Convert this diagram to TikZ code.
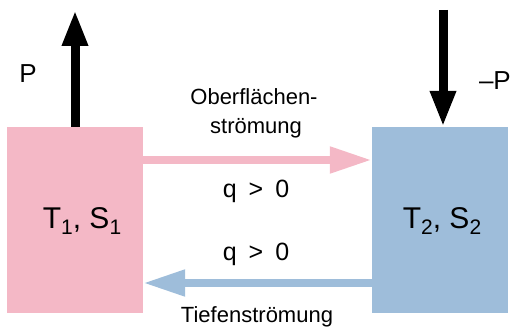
\documentclass[tikz,border=0pt]{standalone}
\usepackage{fontspec}
\setmainfont{Liberation Sans}
\usetikzlibrary{arrows.meta}
\definecolor{boxpink}{RGB}{244,184,198}
\definecolor{boxblue}{RGB}{158,189,218}
\newcommand{\subnum}[1]{\raisebox{-6pt}{\fontsize{21}{21}\selectfont #1}}
\begin{document}
\begin{tikzpicture}[x=1pt,y=-1pt,
  box/.style={minimum width=136pt,minimum height=186pt,inner sep=0pt,draw=none},
  lbl/.style={inner sep=0pt,anchor=base,font=\fontsize{22}{26}\selectfont},
  qlbl/.style={inner sep=0pt,anchor=base,font=\fontsize{25}{28}\selectfont},
  big/.style={inner sep=0pt,anchor=base,font=\fontsize{30}{34}\selectfont},
  plbl/.style={inner sep=0pt,font=\fontsize{26}{30}\selectfont},
  fat/.style={line width=9pt,-{Triangle[length=36pt,width=24pt]}},
  flow/.style={line width=8pt,-{Triangle[length=42pt,width=25pt]}}]
\useasboundingbox (0,0) rectangle (511,331);
\node[box,fill=boxpink] (lbox) at (75,220) {};
\node[box,fill=boxblue] (rbox) at (440,220) {};
\node[big] (t1) at (82,228) {T\subnum{1}, S\subnum{1}};
\node[big] (t2) at (442,228) {T\subnum{2}, S\subnum{2}};
\coordinate (ptop) at (75,10);
\coordinate (mtop) at (443,10);
\draw[fat] (lbox.north) -- (ptop);
\draw[fat] (mtop) -- ([xshift=3pt]rbox.north);
\node[plbl,anchor=base] (p) at (28,83) {P};
\node[plbl,anchor=base east] (mp) at (511,90) {–P};
\draw[flow,boxpink] ([yshift=60pt]lbox.east) -- ([yshift=60pt]rbox.west);
\draw[flow,boxblue] ([yshift=-63pt]rbox.west) -- ([yshift=-63pt]lbox.east);
\node[lbl] (ob1) at (254,105) {Oberflächen-};
\node[lbl] (ob2) at (256,134) {strömung};
\node[qlbl] (q1) at (256,197) {q\hspace{12pt}>\hspace{12pt}0};
\node[qlbl] (q2) at (256,260) {q\hspace{12pt}>\hspace{12pt}0};
\node[lbl] (tief) at (257,322) {Tiefenströmung};
\end{tikzpicture}
\end{document}
